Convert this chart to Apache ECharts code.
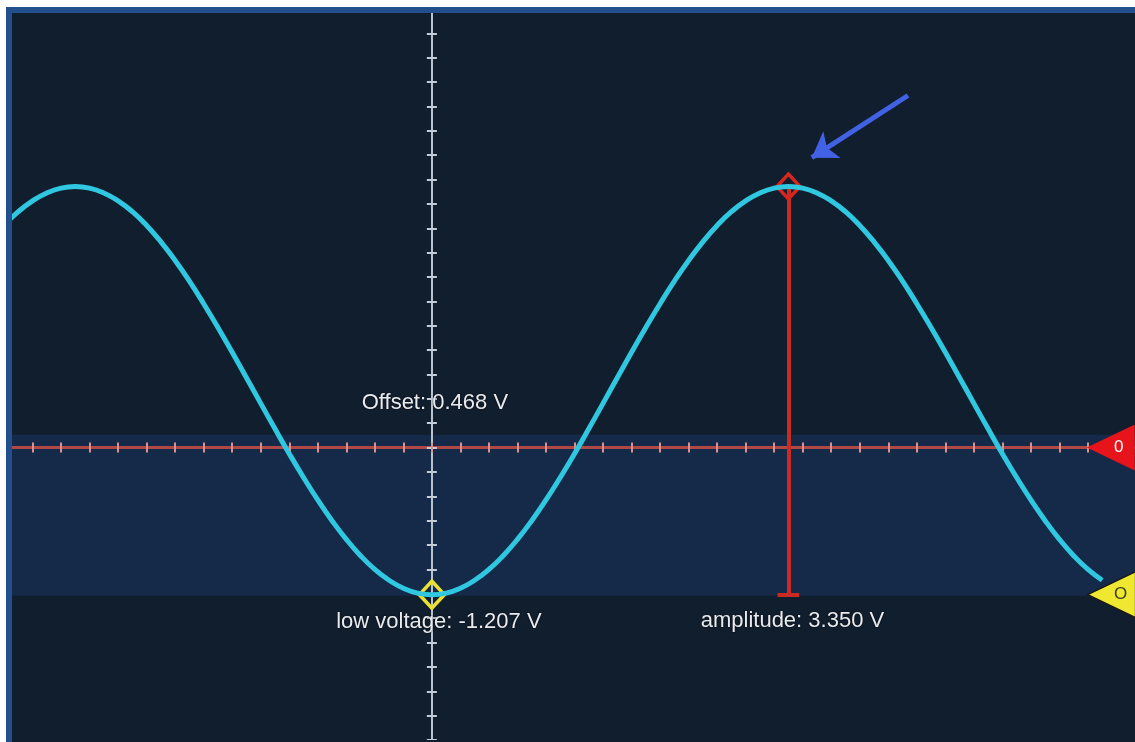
<!DOCTYPE html>
<html>
<head>
<meta charset="utf-8">
<script src="https://cdn.jsdelivr.net/npm/echarts@6/dist/echarts.min.js"></script>
<style>
  html, body { margin: 0; padding: 0; background: #ffffff; width: 1135px; height: 742px; overflow: hidden; }
  #frame { position: absolute; left: 6px; top: 7px; width: 1129px; height: 735px; background: #21508c; }
  #scope { position: absolute; left: 12px; top: 13px; width: 1123px; height: 729px; background: #111e2e; overflow: hidden; }
  /* plot canvas extends slightly past the screen so the graticule starts on whole divisions */
  #chart { position: absolute; left: -7.8px; top: -4.5px; width: 1140.8px; height: 730.8px; }
</style>
</head>
<body>
<div id="frame"></div>
<div id="scope"><div id="chart"></div></div>
<script>
// Time axis in divisions (trough of the waveform at t = 0)
const timeDiv = [-15, -14.5, -14, -13.5, -13, -12.5, -12, -11.5, -11, -10.5, -10, -9.5, -9, -8.5, -8, -7.5,
                 -7, -6.5, -6, -5.5, -5, -4.5, -4, -3.5, -3, -2.5, -2, -1.5, -1, -0.5,
                 0, 0.5, 1, 1.5, 2, 2.5, 3, 3.5, 4, 4.5, 5, 5.5, 6, 6.5, 7, 7.5, 8, 8.5, 9, 9.5,
                 10, 10.5, 11, 11.5, 12, 12.5, 13, 13.5, 14, 14.5, 15, 15.5, 16, 16.5, 17, 17.5, 18, 18.5, 19, 19.5,
                 20, 20.5, 21, 21.5, 22, 22.5, 23, 23.5];
// Channel 1 voltage samples (V)
const voltage = [1.823, 1.936, 2.025, 2.090, 2.130, 2.143, 2.130, 2.090, 2.025, 1.936, 1.823, 1.689, 1.536, 1.366, 1.181, 0.986,
                 0.782, 0.573, 0.363, 0.154, -0.050, -0.245, -0.430, -0.600, -0.753, -0.887, -1.000, -1.089, -1.154, -1.194,
                 -1.207, -1.194, -1.154, -1.089, -1.000, -0.887, -0.753, -0.600, -0.430, -0.245, -0.050, 0.154, 0.363, 0.573, 0.782, 0.986, 1.181, 1.366, 1.536, 1.689,
                 1.823, 1.936, 2.025, 2.090, 2.130, 2.143, 2.130, 2.090, 2.025, 1.936, 1.823, 1.689, 1.536, 1.366, 1.181, 0.986, 0.782, 0.573, 0.363, 0.154,
                 -0.050, -0.245, -0.430, -0.600, -0.753, -0.887, -1.000, -1.089];

// Measurement readouts (V)
const lowVoltage = -1.207;
const amplitude = 3.350;
const offsetVoltage = 0.468;
const highVoltage = lowVoltage + amplitude;
const troughTime = 0;
const peakTime = 12.5;

// Reference levels for the right-edge markers
const channelZero = 0;
const triggerLevel = -1.207;
// Shaded band between levels (V)
const bandLevels = [0.105, -1.215];
// Pointer annotation (time, volts): tail -> head
const pointerTail = [16.69, 2.89];
const pointerHead = [13.32, 2.38];

const chart = echarts.init(document.getElementById('chart'), null, { renderer: 'canvas' });

const labelFont = { color: '#e8eaee', fontSize: 22, fontFamily: 'Liberation Sans, Arial, sans-serif',
                    textShadowColor: 'rgba(0,0,0,0.8)', textShadowBlur: 2 };

const hAxisBase = {
  type: 'value', min: -15, max: 25, interval: 1, z: 3,
  axisLine: { onZero: true, lineStyle: { color: '#b04848', width: 3 } },
  axisTick: { show: true, inside: false, length: 5, lineStyle: { color: '#d89090', width: 2 } },
  axisLabel: { show: false }, splitLine: { show: false }
};
const vAxisBase = {
  type: 'value', min: -2.4, max: 3.6, interval: 0.2, z: 3,
  axisLine: { onZero: true, lineStyle: { color: '#b9c3d0', width: 2 } },
  axisTick: { show: true, inside: false, length: 5, lineStyle: { color: '#c4ccd8', width: 2 } },
  axisLabel: { show: false }, splitLine: { show: false }
};

chart.setOption({
  backgroundColor: 'transparent',
  animation: false,
  grid: { left: 0, right: 0, top: 0, bottom: 0, containLabel: false },
  xAxis: [
    Object.assign({}, hAxisBase, { position: 'bottom' }),
    Object.assign({}, hAxisBase, { position: 'top' })
  ],
  yAxis: [
    Object.assign({}, vAxisBase, { position: 'left' }),
    Object.assign({}, vAxisBase, { position: 'right' })
  ],
  series: [
    {
      // shaded band
      type: 'line', data: [], silent: true, z: 0,
      markArea: {
        silent: true,
        itemStyle: { color: '#142a48' },
        data: [[{ yAxis: bandLevels[0] }, { yAxis: bandLevels[1] }]]
      }
    },
    {
      name: 'CH1', type: 'line', z: 5,
      data: timeDiv.map((t, i) => [t, voltage[i]]),
      smooth: true, showSymbol: false,
      lineStyle: { color: '#30c8e0', width: 5 }
    },
    {
      // amplitude cursor, pointer and markers
      type: 'line', data: [], z: 6,
      markLine: {
        silent: true, animation: false,
        label: { show: false },
        data: [
          [{ coord: [peakTime, highVoltage], symbol: 'none', lineStyle: { color: '#cc2a20', width: 4, type: 'solid' } },
           { coord: [peakTime, lowVoltage], symbol: 'none' }],
          [{ coord: [peakTime - 0.38, lowVoltage], symbol: 'none', lineStyle: { color: '#cc2a20', width: 4, type: 'solid' } },
           { coord: [peakTime + 0.38, lowVoltage], symbol: 'none' }],
          [{ coord: pointerTail, symbol: 'none', lineStyle: { color: '#4262e6', width: 5, type: 'solid' } },
           { coord: pointerHead, symbol: 'arrow', symbolSize: 24 }]
        ]
      },
      markPoint: {
        silent: true, animation: false,
        data: [
          { coord: [peakTime, highVoltage], symbol: 'diamond', symbolSize: [23, 25],
            itemStyle: { color: 'rgba(0,0,0,0)', borderColor: '#d8261e', borderWidth: 3.5 },
            label: { show: false } },
          { coord: [troughTime, lowVoltage], symbol: 'diamond', symbolSize: [25, 27],
            itemStyle: { color: 'rgba(0,0,0,0)', borderColor: '#e8e032', borderWidth: 3.5 },
            label: Object.assign({ show: true, position: 'inside', offset: [7, 27],
              formatter: 'low voltage: ' + lowVoltage.toFixed(3) + ' V' }, labelFont) },
          { coord: [peakTime, lowVoltage], symbolSize: 1, itemStyle: { color: 'rgba(0,0,0,0)' },
            label: Object.assign({ show: true, position: 'inside', offset: [4, 27],
              formatter: 'amplitude: ' + amplitude.toFixed(3) + ' V' }, labelFont) },
          { coord: [troughTime, offsetVoltage], symbolSize: 1, itemStyle: { color: 'rgba(0,0,0,0)' },
            label: Object.assign({ show: true, position: 'inside', offset: [3, 13],
              formatter: 'Offset: ' + offsetVoltage.toFixed(3) + ' V' }, labelFont) },
          { coord: [23.8, channelZero], symbol: 'triangle', symbolRotate: 90, symbolSize: [46, 48],
            itemStyle: { color: '#e8141c' },
            label: { show: true, position: 'inside', offset: [8, 0], formatter: '0',
                     color: '#ffffff', fontSize: 17, fontFamily: 'Liberation Sans, Arial, sans-serif' } },
          { coord: [23.83, triggerLevel], symbol: 'triangle', symbolRotate: 90, symbolSize: [46, 48],
            itemStyle: { color: '#f0e830', borderColor: '#1a1a1a', borderWidth: 1.5 },
            label: { show: true, position: 'inside', offset: [9, 0], formatter: 'O',
                     color: '#3a3a20', fontSize: 17, fontFamily: 'Liberation Sans, Arial, sans-serif' } }
        ]
      }
    }
  ]
});
</script>
</body>
</html>
